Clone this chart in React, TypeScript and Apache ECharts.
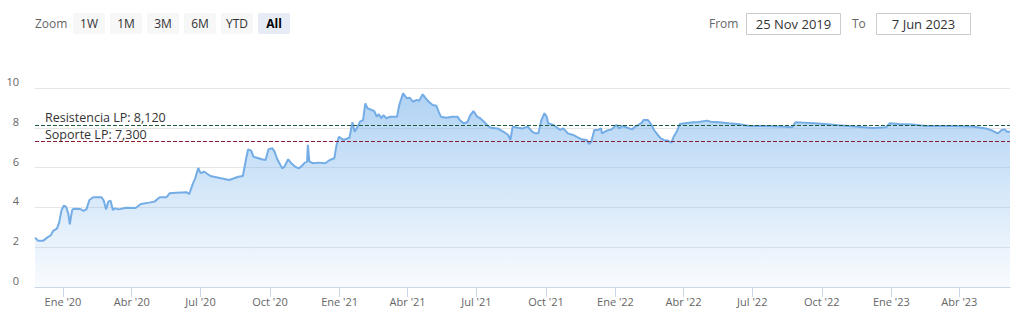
import React, { useEffect, useRef } from "react";
import * as echarts from "echarts";

const dates: string[] = [
  "2019-11-25","2019-11-29","2019-12-06","2019-12-11","2019-12-16","2019-12-19","2019-12-24","2019-12-27","2019-12-30",
  "2020-01-02","2020-01-05","2020-01-08","2020-01-10","2020-01-13","2020-01-15","2020-01-24","2020-01-28","2020-02-01",
  "2020-02-05","2020-02-10","2020-02-21","2020-02-24","2020-02-27","2020-03-01","2020-03-04","2020-03-07","2020-03-10",
  "2020-03-15","2020-03-24","2020-04-06","2020-04-13","2020-04-24","2020-05-01","2020-05-08","2020-05-17","2020-05-21",
  "2020-05-30","2020-06-13","2020-06-16","2020-06-21","2020-06-24","2020-06-28","2020-07-01","2020-07-06","2020-07-14",
  "2020-07-28","2020-08-08","2020-08-20","2020-08-26","2020-08-30","2020-09-02","2020-09-06","2020-09-09","2020-09-20",
  "2020-09-25","2020-09-29","2020-10-04","2020-10-07","2020-10-10","2020-10-17","2020-10-20","2020-10-25","2020-10-29",
  "2020-11-03","2020-11-08","2020-11-12","2020-11-16","2020-11-19","2020-11-20","2020-11-22","2020-11-27","2020-12-04",
  "2020-12-13","2020-12-19","2020-12-25","2020-12-28","2020-12-31","2021-01-06","2021-01-14","2021-01-18","2021-01-21",
  "2021-01-25","2021-01-28","2021-02-01","2021-02-04","2021-02-07","2021-02-16","2021-02-19","2021-02-22","2021-02-25",
  "2021-02-28","2021-03-04","2021-03-09","2021-03-18","2021-03-21","2021-03-26","2021-03-31","2021-04-04","2021-04-08",
  "2021-04-13","2021-04-16","2021-04-21","2021-04-25","2021-04-29","2021-05-04","2021-05-09","2021-05-12","2021-05-15",
  "2021-05-22","2021-05-30","2021-06-06","2021-06-09","2021-06-14","2021-06-19","2021-06-23","2021-06-27","2021-07-02",
  "2021-07-06","2021-07-11","2021-07-15","2021-07-20","2021-07-29","2021-08-06","2021-08-12","2021-08-15","2021-08-18",
  "2021-08-25","2021-08-31","2021-09-07","2021-09-13","2021-09-17","2021-09-21","2021-09-25","2021-09-29","2021-10-02",
  "2021-10-04","2021-10-11","2021-10-20","2021-10-24","2021-10-30","2021-11-06","2021-11-17","2021-11-24","2021-11-27",
  "2021-11-30","2021-12-04","2021-12-09","2021-12-13","2021-12-14","2021-12-20","2021-12-27","2022-01-02","2022-01-06",
  "2022-01-10","2022-01-17","2022-01-23","2022-01-27","2022-01-31","2022-02-05","2022-02-07","2022-02-13","2022-02-17",
  "2022-02-21","2022-02-26","2022-03-02","2022-03-06","2022-03-12","2022-03-16","2022-03-19","2022-03-23","2022-03-27",
  "2022-04-03","2022-04-14","2022-04-21","2022-05-02","2022-05-07","2022-05-18","2022-05-31","2022-06-14","2022-06-27",
  "2022-07-21","2022-08-09","2022-08-23","2022-08-27","2022-09-07","2022-09-21","2022-10-05","2022-10-23","2022-11-14",
  "2022-12-07","2022-12-25","2022-12-30","2023-01-11","2023-01-29","2023-02-15","2023-03-05","2023-03-26","2023-04-18",
  "2023-05-06","2023-05-15","2023-05-22","2023-05-27","2023-05-31","2023-06-03","2023-06-07",
];

const values: number[] = [
  2.48,2.33,2.33,2.48,2.60,2.82,2.93,3.25,3.85,
  4.08,4.04,3.70,3.15,3.85,3.93,3.92,3.82,3.90,
  4.37,4.51,4.51,4.34,3.90,4.29,4.34,3.87,3.95,
  3.90,3.98,3.97,4.17,4.24,4.29,4.51,4.51,4.71,
  4.74,4.76,4.66,5.21,5.46,5.98,5.72,5.79,5.58,
  5.46,5.38,5.54,5.58,6.38,6.92,6.85,6.55,6.42,
  6.38,6.92,6.97,6.80,6.47,5.96,6.05,6.42,6.22,
  6.05,5.96,6.08,6.25,6.30,7.14,6.30,6.22,6.25,
  6.22,6.38,6.47,7.14,7.55,7.39,7.50,8.28,7.80,
  8.06,8.31,8.39,9.23,8.98,8.84,8.56,8.68,8.48,
  8.64,8.48,8.56,8.56,9.15,9.73,9.48,9.51,9.31,
  9.40,9.35,9.68,9.48,9.31,9.15,9.11,8.81,8.56,
  8.51,8.56,8.56,8.39,8.23,8.28,8.64,8.84,8.56,
  8.48,8.31,8.14,8.00,7.97,7.80,7.64,7.39,8.06,
  8.00,7.97,8.06,7.80,7.72,7.72,8.39,8.73,8.56,
  8.23,8.14,7.89,7.97,7.72,7.64,7.42,7.39,7.19,
  7.30,7.89,7.89,7.97,7.72,7.85,7.92,8.14,7.97,
  8.09,8.00,7.92,8.06,8.14,8.26,8.39,8.39,8.19,
  7.89,7.64,7.47,7.39,7.35,7.25,7.55,7.80,8.19,
  8.23,8.28,8.29,8.36,8.31,8.28,8.23,8.18,8.09,
  8.09,8.06,8.03,8.28,8.26,8.23,8.19,8.13,8.06,
  7.99,8.03,8.23,8.19,8.16,8.09,8.09,8.09,8.06,
  7.97,7.85,7.72,7.89,7.92,7.80,7.80,
];

const resistencia = 8.12;
const soporte = 7.3;
const rangeFrom = "2019-11-25";
const rangeTo = "2023-06-07";
const fromLabel = "25 Nov 2019";
const toLabel = "7 Jun 2023";
const zoomButtons = ["1W", "1M", "3M", "6M", "YTD", "All"];
const selectedButton = "All";
const quarterTicks = [
  "2020-01-01","2020-04-01","2020-07-01","2020-10-01",
  "2021-01-01","2021-04-01","2021-07-01","2021-10-01",
  "2022-01-01","2022-04-01","2022-07-01","2022-10-01",
  "2023-01-01","2023-04-01",
];
const monthNames = ["Ene","Feb","Mar","Abr","May","Jun","Jul","Ago","Sep","Oct","Nov","Dic"];
const yTicks = { min: 0, max: 10, interval: 2 };

const FONT = "'Open Sans', sans-serif";

function parseDate(s: string): number {
  const [y, m, d] = s.split("-").map(Number);
  return Date.UTC(y, m - 1, d);
}

function fmtComma(v: number): string {
  return v.toFixed(3).replace(".", ",");
}

export default function App() {
  const ref = useRef<HTMLDivElement>(null);

  useEffect(() => {
    if (!ref.current) return;
    const chart = echarts.init(ref.current, undefined, { renderer: "svg" });

    const seriesData = dates.map((d, i) => [parseDate(d), values[i]]);
    const tickVals = quarterTicks.map(parseDate);

    const graphic: any[] = [];
    graphic.push({
      type: "text",
      x: 35,
      y: 23.5,
      style: { text: "Zoom", fill: "#666", font: `12px ${FONT}`, verticalAlign: "middle" },
    });
    zoomButtons.forEach((b, i) => {
      const x = 73 + i * 37;
      const sel = b === selectedButton;
      graphic.push({
        type: "rect",
        shape: { x, y: 13, width: 32, height: 21, r: 2 },
        style: { fill: sel ? "#e6ebf5" : "#f7f7f7" },
      });
      graphic.push({
        type: "text",
        x: x + 16,
        y: 23.5,
        style: {
          text: b,
          fill: sel ? "#000" : "#333",
          font: `${sel ? "bold " : ""}12px ${FONT}`,
          align: "center",
          verticalAlign: "middle",
        },
      });
    });
    graphic.push({
      type: "text",
      x: 709,
      y: 23.5,
      style: { text: "From", fill: "#666", font: `12px ${FONT}`, verticalAlign: "middle" },
    });
    graphic.push({
      type: "rect",
      shape: { x: 746.5, y: 13.5, width: 94, height: 21 },
      style: { fill: "#fff", stroke: "#cccccc", lineWidth: 1 },
    });
    graphic.push({
      type: "text",
      x: 793.5,
      y: 24,
      style: { text: fromLabel, fill: "#333", font: `13px ${FONT}`, align: "center", verticalAlign: "middle" },
    });
    graphic.push({
      type: "text",
      x: 852,
      y: 23.5,
      style: { text: "To", fill: "#666", font: `12px ${FONT}`, verticalAlign: "middle" },
    });
    graphic.push({
      type: "rect",
      shape: { x: 876.5, y: 13.5, width: 94, height: 21 },
      style: { fill: "#fff", stroke: "#cccccc", lineWidth: 1 },
    });
    graphic.push({
      type: "text",
      x: 923.5,
      y: 24,
      style: { text: toLabel, fill: "#333", font: `13px ${FONT}`, align: "center", verticalAlign: "middle" },
    });

    chart.setOption({
      animation: false,
      textStyle: { fontFamily: FONT },
      grid: { left: 35, right: 7, top: 88, bottom: 29, outerBoundsMode: "none", containLabel: false },
      graphic,
      xAxis: {
        type: "value",
        min: parseDate(rangeFrom),
        max: parseDate(rangeTo),
        axisLine: { show: true, lineStyle: { color: "#ccd6eb", width: 1 } },
        axisTick: { show: true, length: 10, lineStyle: { color: "#ccd6eb" }, customValues: tickVals },
        splitLine: { show: false },
        axisLabel: {
          customValues: tickVals,
          color: "#666",
          fontSize: 11,
          fontFamily: FONT,
          margin: 9,
          formatter: (val: number) => {
            const d = new Date(val);
            return `${monthNames[d.getUTCMonth()]} '${String(d.getUTCFullYear()).slice(2)}`;
          },
        },
      },
      yAxis: {
        type: "value",
        min: yTicks.min,
        max: yTicks.max,
        interval: yTicks.interval,
        axisLine: { show: false },
        axisTick: { show: false },
        splitLine: { show: true, lineStyle: { color: "#e6e6e6", width: 1 } },
        axisLabel: {
          color: "#666",
          fontSize: 11,
          fontFamily: FONT,
          margin: 16,
          verticalAlign: "bottom",
          lineHeight: 13,
        },
      },
      series: [
        {
          type: "line",
          data: seriesData,
          showSymbol: false,
          symbol: "none",
          lineStyle: { color: "#74ade6", width: 2 },
          itemStyle: { color: "#74ade6" },
          areaStyle: {
            color: new echarts.graphic.LinearGradient(0, 0, 0, 1, [
              { offset: 0, color: "rgba(124,181,236,0.85)" },
              { offset: 1, color: "rgba(124,181,236,0.07)" },
            ]),
          },
          markLine: {
            silent: true,
            symbol: ["none", "none"],
            animation: false,
            data: [
              {
                yAxis: resistencia,
                lineStyle: { color: "#1e5a3c", type: [4, 2], width: 1 },
                label: {
                  show: true,
                  position: "insideStartTop",
                  distance: [10, 1],
                  formatter: `Resistencia LP: ${fmtComma(resistencia)}`,
                  color: "#333",
                  fontSize: 12.5,
                  fontFamily: FONT,
                },
              },
              {
                yAxis: soporte,
                lineStyle: { color: "#8a1c34", type: [4, 2], width: 1 },
                label: {
                  show: true,
                  position: "insideStartTop",
                  distance: [10, 1],
                  formatter: `Soporte LP: ${fmtComma(soporte)}`,
                  color: "#333",
                  fontSize: 12.5,
                  fontFamily: FONT,
                },
              },
            ],
          },
        },
      ],
    });

    return () => chart.dispose();
  }, []);

  return (
    <div
      ref={ref}
      style={{ position: "fixed", left: 0, top: 0, width: 1017, height: 316, background: "#fff" }}
    />
  );
}
